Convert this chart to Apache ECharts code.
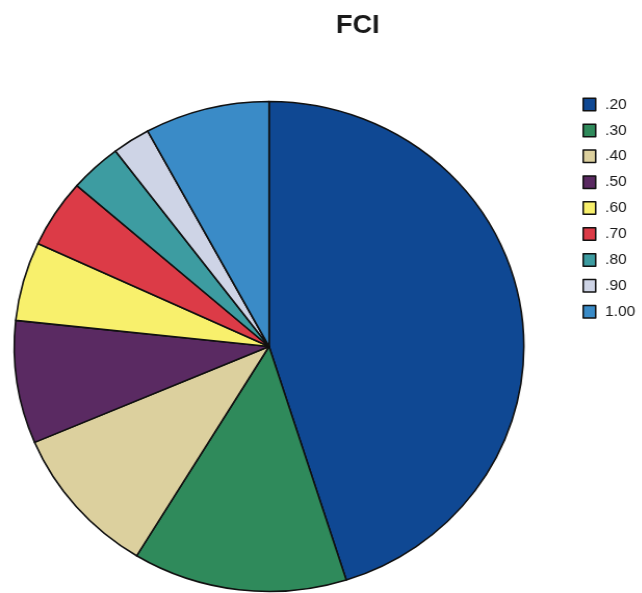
<!DOCTYPE html>
<html>
<head>
<meta charset="utf-8">
<style>
  html, body { margin: 0; padding: 0; background: #fff; overflow: hidden; }
  /* the pie is drawn slightly wider than tall */
  #chart { width: 617px; height: 593px; transform: scaleX(1.04); transform-origin: 0 0; }
</style>
<script src="https://cdn.jsdelivr.net/npm/echarts@6/dist/echarts.min.js"></script>
</head>
<body>
<div id="chart"></div>
<script>
const titleText = 'FCI';
const categories = ['.20', '.30', '.40', '.50', '.60', '.70', '.80', '.90', '1.00'];
const percents = [45.1, 13.6, 9.9, 8.1, 5.2, 4.5, 3.3, 2.4, 7.9];
const sliceColors = ['#0f4893', '#2f8a5b', '#dcd09e', '#5a2a62', '#f8f06c', '#dc3b47', '#3d9ca1', '#ced4e6', '#3a8bc7'];

const chart = echarts.init(document.getElementById('chart'), null, { renderer: 'canvas' });

chart.setOption({
  backgroundColor: '#ffffff',
  animation: false,
  color: sliceColors,
  title: {
    text: titleText,
    left: 339,
    top: 8,
    textAlign: 'center',
    textStyle: { fontFamily: 'Liberation Sans, Arial, sans-serif', fontWeight: 'bold', fontSize: 26, color: '#1a1a1a' }
  },
  legend: {
    orient: 'vertical',
    left: 555,
    top: 92,
    itemWidth: 12,
    itemHeight: 12.5,
    itemGap: 10.9,
    icon: 'rect',
    data: categories,
    itemStyle: { borderColor: '#111', borderWidth: 1.5 },
    textStyle: { fontFamily: 'Liberation Sans, Arial, sans-serif', fontSize: 15, lineHeight: 14, color: '#1a1a1a', padding: [0, 0, 0, 4] }
  },
  series: [{
    type: 'pie',
    center: [258.7, 346.5],
    radius: 245,
    startAngle: 90,
    clockwise: true,
    label: { show: false },
    labelLine: { show: false },
    emphasis: { disabled: true },
    itemStyle: { borderColor: '#111', borderWidth: 1.6 },
    data: categories.map((name, i) => ({ name: name, value: percents[i] }))
  }]
});
</script>
</body>
</html>
